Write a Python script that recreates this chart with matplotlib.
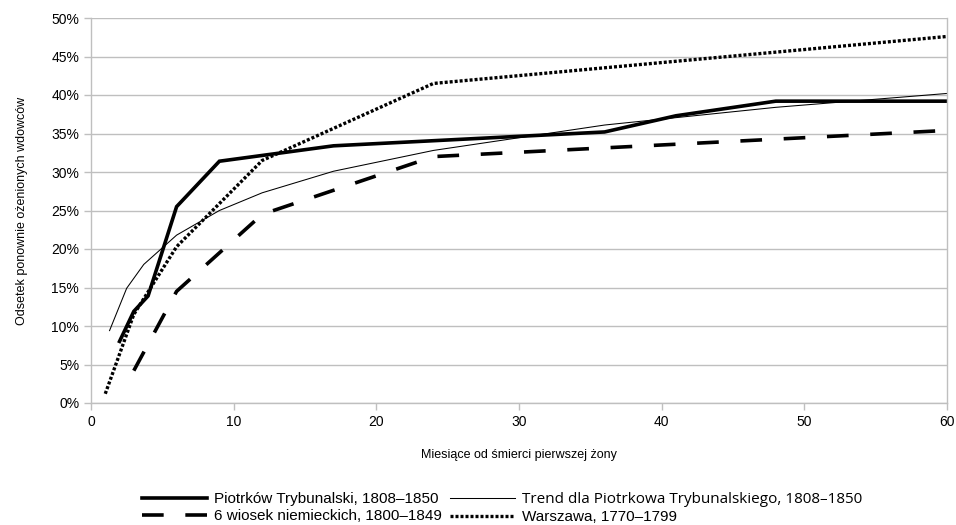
import matplotlib
matplotlib.use("Agg")
import matplotlib.pyplot as plt
from matplotlib.ticker import PercentFormatter

plt.rcParams['font.family'] = ['Liberation Sans', 'DejaVu Sans']

# ======================================
# Data
# ======================================

piotrkow_x = [2, 3, 4, 6, 9, 17, 36, 41, 48, 60]
piotrkow_y = [8.0, 11.9, 13.9, 25.5, 31.4, 33.4, 35.2, 37.3, 39.2, 39.2]

trend_x = [1.3, 2.5, 3.7, 6, 9, 12, 17, 24, 36, 48, 60]
trend_y = [9.4, 14.9, 18.0, 21.8, 25.0, 27.3, 30.1, 32.8, 36.1, 38.4, 40.2]

wioski_x = [3, 6, 12, 24, 60]
wioski_y = [4.2, 14.5, 24.5, 32.0, 35.4]

warszawa_x = [1, 3, 6, 12, 24, 60]
warszawa_y = [1.2, 11.5, 20.3, 31.5, 41.5, 47.6]

labels = ["Piotrków Trybunalski, 1808–1850",
          "Trend dla Piotrkowa Trybunalskiego, 1808–1850",
          "6 wiosek niemieckich, 1800–1849",
          "Warszawa, 1770–1799"]

x_ticks = [0, 10, 20, 30, 40, 50, 60]
y_ticks = [0, 5, 10, 15, 20, 25, 30, 35, 40, 45, 50]

# ======================================
# Figure
# ======================================

fig = plt.figure(figsize=(9.56, 5.25), dpi=100)
ax = fig.add_axes([91/956, 1 - 403/525, (947-91)/956, (403-18)/525])

grid_col = "#bfbfbf"

l1, = ax.plot(piotrkow_x, piotrkow_y, color="black", lw=2.6, solid_joinstyle="miter")
l2, = ax.plot(trend_x, trend_y, color="black", lw=0.75)
l3, = ax.plot(wioski_x, wioski_y, color="black", lw=2.6, dashes=(6, 6))
l4, = ax.plot(warszawa_x, warszawa_y, color="black", lw=2.4, dashes=(0.9, 0.6),
              dash_capstyle="butt")

ax.set_xlim(0, 60)
ax.set_ylim(0, 50)
ax.set_xticks(x_ticks)
ax.set_yticks(y_ticks)
ax.yaxis.set_major_formatter(PercentFormatter(decimals=0))

ax.grid(axis="y", color=grid_col, lw=1.0)
ax.set_axisbelow(True)
for side in ["left", "bottom", "right"]:
    ax.spines[side].set_color(grid_col)
    ax.spines[side].set_linewidth(1.0)
ax.spines["top"].set_visible(False)

ax.tick_params(axis="both", colors=grid_col, length=5, width=1.0,
               labelcolor="black", labelsize=10)
ax.tick_params(axis="x", pad=4)

ax.set_xlabel("Miesiące od śmierci pierwszej żony", fontsize=9, labelpad=14)
ax.set_ylabel("Odsetek ponownie ożenionych wdowców", fontsize=9, labelpad=17)

# legend under the plot, two columns
leg = fig.legend([l1, l3, l2, l4], [labels[0], labels[2], labels[1], labels[3]],
                 ncol=2, loc="lower center", bbox_to_anchor=(502/956, 1/525),
                 frameon=False, fontsize=11, handlelength=4.3, handletextpad=0.45,
                 columnspacing=0.5, labelspacing=0.2, borderaxespad=0, borderpad=0)
leg.get_texts()[2].set_fontfamily(["Open Sans", "DejaVu Sans"])

fig.savefig("out.png", dpi=100)
